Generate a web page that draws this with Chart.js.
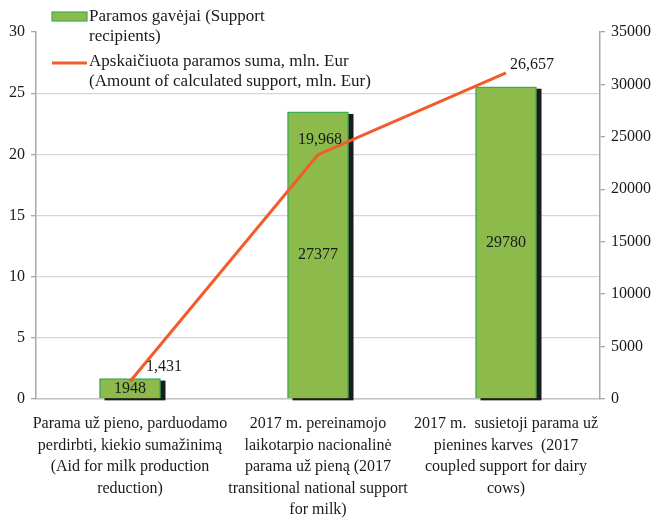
<!DOCTYPE html>
<html>
<head>
<meta charset="utf-8">
<script src="https://cdn.jsdelivr.net/npm/chart.js@4"></script>
<style>
  html, body { margin: 0; padding: 0; background: #fff; }
  #wrap { width: 654px; height: 518px; }
</style>
</head>
<body>
<div id="wrap"><canvas id="chart" width="654" height="518"></canvas></div>
<script>
// categories (multi-line labels under each bar)
const categories = [
    ['Parama už pieno, parduodamo', 'perdirbti, kiekio sumažinimą', '(Aid for milk production', 'reduction)'],
    ['2017 m. pereinamojo', 'laikotarpio nacionalinė', 'parama už pieną (2017', 'transitional national support', 'for milk)'],
    ['2017 m.  susietoji parama už', 'pienines karves  (2017', 'coupled support for dairy', 'cows)']
];
const recipients = [1948, 27377, 29780];        // right axis, bars
const supportAmount = [1.431, 19.968, 26.657];  // left axis, line (mln. Eur)
const recipientsLabel = ['Paramos gavėjai (Support', 'recipients)'];
const amountLabel = ['Apskaičiuota paramos suma, mln. Eur', '(Amount of calculated support, mln. Eur)'];

const FONT = '"Liberation Serif", "Times New Roman", serif';
const BAR_FILL = '#8dbb4b';
const BAR_EDGE = '#3cac55';
const LINE_COLOR = '#f25b2a';
const AXIS_GRAY = '#a8a8a8';

// number text like "19,968"
function commaDecimal(v) {
    return v.toFixed(3).replace('.', ',');
}

// dark offset block behind each bar
const barShadow = {
    id: 'barShadow',
    beforeDatasetsDraw(chart) {
        const meta = chart.getDatasetMeta(0);
        const ctx = chart.ctx;
        ctx.save();
        ctx.fillStyle = '#1c1c1c';
        meta.data.forEach(bar => {
            const w = bar.width;
            ctx.fillRect(bar.x - w / 2 + 5, bar.y + 2, w, bar.base - bar.y);
        });
        ctx.restore();
    }
};

// value labels for bars and line
const lineLabelOffsets = [[34, -15], [2, -15], [26, -8]];
const valueLabels = {
    id: 'valueLabels',
    afterDatasetsDraw(chart) {
        const ctx = chart.ctx;
        ctx.save();
        ctx.font = '16px ' + FONT;
        ctx.fillStyle = '#1a1a1a';
        ctx.textAlign = 'center';
        ctx.textBaseline = 'middle';
        chart.getDatasetMeta(0).data.forEach((bar, i) => {
            ctx.fillText(String(recipients[i]), bar.x, (bar.y + bar.base) / 2);
        });
        chart.getDatasetMeta(1).data.forEach((pt, i) => {
            const off = lineLabelOffsets[i];
            ctx.fillText(commaDecimal(supportAmount[i]), pt.x + off[0], pt.y + off[1]);
        });
        ctx.restore();
    }
};

// legend laid over the top-left of the plot
const overlayLegend = {
    id: 'overlayLegend',
    afterDraw(chart) {
        const ctx = chart.ctx;
        ctx.save();
        ctx.font = '17px ' + FONT;
        ctx.textBaseline = 'middle';
        ctx.textAlign = 'left';

        ctx.fillStyle = BAR_FILL;
        ctx.fillRect(52, 12, 35, 9);
        ctx.strokeStyle = BAR_EDGE;
        ctx.lineWidth = 1.2;
        ctx.strokeRect(52, 12, 35, 9);

        ctx.fillStyle = '#1a1a1a';
        ctx.fillText(recipientsLabel[0], 89, 17);
        ctx.fillText(recipientsLabel[1], 89, 37);

        ctx.strokeStyle = LINE_COLOR;
        ctx.lineWidth = 3;
        ctx.beginPath();
        ctx.moveTo(52, 63);
        ctx.lineTo(87, 63);
        ctx.stroke();

        ctx.fillText(amountLabel[0], 89, 62);
        ctx.fillText(amountLabel[1], 89, 82);
        ctx.restore();
    }
};

new Chart(document.getElementById('chart'), {
    data: {
        labels: categories,
        datasets: [
            {
                type: 'bar',
                label: recipientsLabel.join(' '),
                data: recipients,
                yAxisID: 'y1',
                backgroundColor: BAR_FILL,
                borderColor: BAR_EDGE,
                borderWidth: 1.5,
                barThickness: 61,
                order: 2
            },
            {
                type: 'line',
                label: amountLabel.join(' '),
                data: supportAmount,
                yAxisID: 'y',
                borderColor: LINE_COLOR,
                borderWidth: 3,
                pointRadius: 0,
                tension: 0,
                order: 1
            }
        ]
    },
    options: {
        responsive: false,
        animation: false,
        layout: { padding: { top: 32, left: 0, right: 0, bottom: 0 } },
        plugins: {
            legend: { display: false },
            tooltip: { enabled: false }
        },
        scales: {
            x: {
                grid: { display: false },
                border: { display: true, color: '#c4c4c4', width: 1.5 },
                ticks: {
                    color: '#1a1a1a',
                    font: { family: FONT, size: 16, lineHeight: 1.35 },
                    padding: 6,
                    maxRotation: 0,
                    autoSkip: false
                },
                afterFit(scale) { scale.height = 119; }
            },
            y: {
                position: 'left',
                min: 0,
                max: 30,
                ticks: {
                    stepSize: 5,
                    color: '#1a1a1a',
                    font: { family: FONT, size: 16 },
                    padding: 6
                },
                grid: {
                    color: ctx => (ctx.tick && ctx.tick.value === 30) ? 'rgba(0,0,0,0)' : '#d6d6d6',
                    tickColor: AXIS_GRAY,
                    tickLength: 5,
                    lineWidth: 1.3
                },
                border: { color: AXIS_GRAY, width: 1.5 },
                afterFit(scale) { scale.width = 36; }
            },
            y1: {
                position: 'right',
                min: 0,
                max: 35000,
                ticks: {
                    stepSize: 5000,
                    color: '#1a1a1a',
                    font: { family: FONT, size: 16 },
                    padding: 6,
                    callback: v => String(v)
                },
                grid: {
                    drawOnChartArea: false,
                    tickColor: AXIS_GRAY,
                    tickLength: 5,
                    lineWidth: 1.3
                },
                border: { color: AXIS_GRAY, width: 1.5 },
                afterFit(scale) { scale.width = 54; }
            }
        }
    },
    plugins: [barShadow, valueLabels, overlayLegend]
});
</script>
</body>
</html>
